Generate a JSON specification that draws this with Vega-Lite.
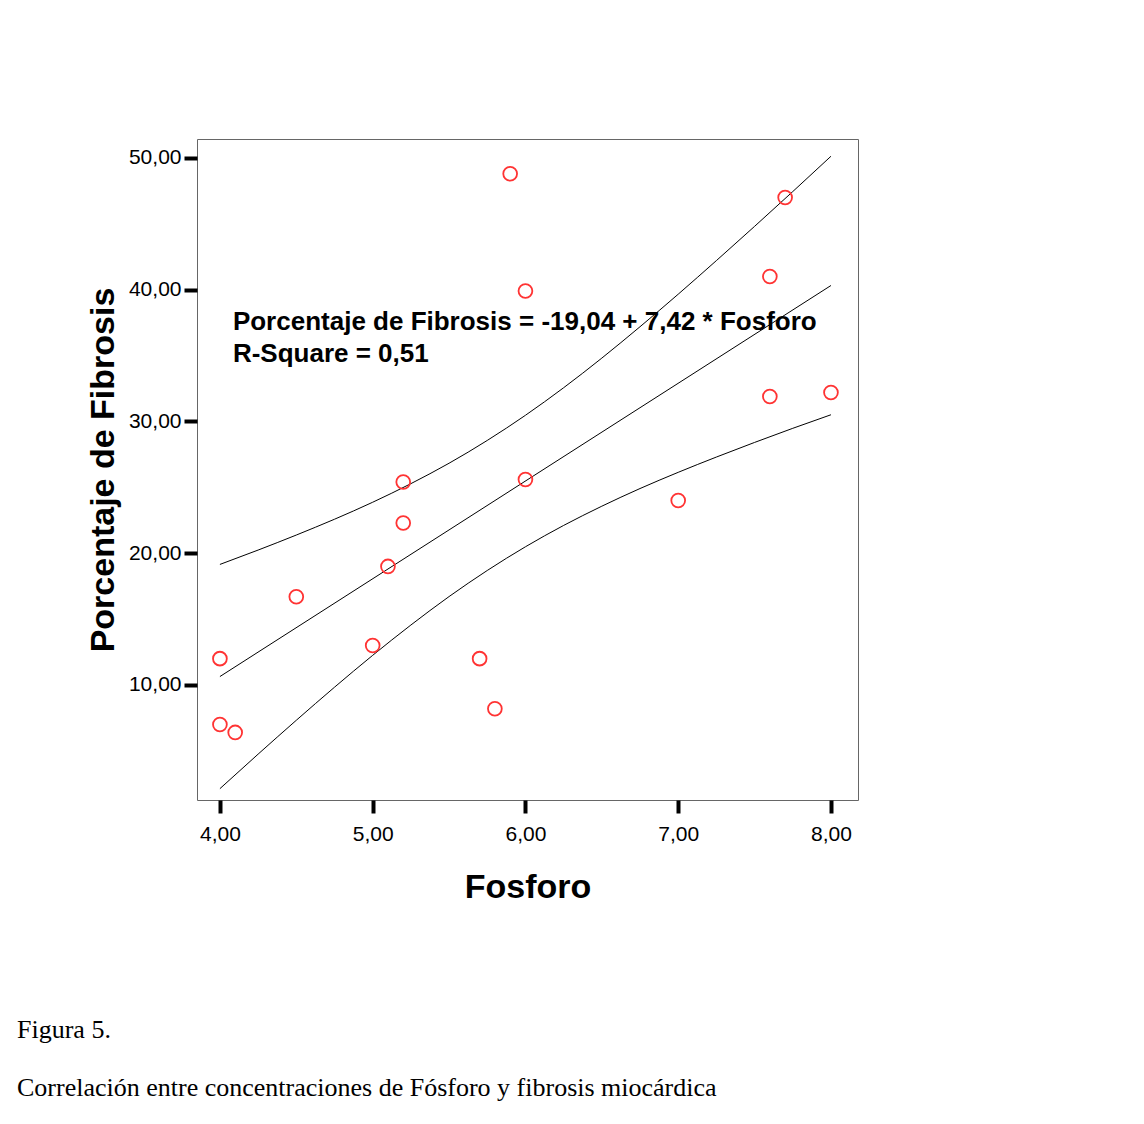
{
  "$schema": "https://vega.github.io/schema/vega-lite/v6.json",
  "autosize": {"type": "none"},
  "padding": {"left": 197, "top": 139, "right": 286, "bottom": 324},
  "width": 661,
  "height": 661,
  "background": "white",
  "config": {
    "locale": {"number": {"decimal": ",", "thousands": ".", "grouping": [3], "currency": ["", ""]}},
    "view": {"stroke": "#666666", "strokeWidth": 1}
  },
  "title": {
    "text": "Figura 5.",
    "subtitle": "Correlación entre concentraciones de Fósforo y fibrosis miocárdica",
    "orient": "bottom",
    "anchor": "start",
    "frame": "group",
    "dx": -180,
    "offset": 113,
    "font": "Liberation Serif",
    "fontSize": 26,
    "fontWeight": "normal",
    "color": "black",
    "subtitleFont": "Liberation Serif",
    "subtitleFontSize": 26,
    "subtitleColor": "black",
    "subtitlePadding": 32
  },
  "datasets": {
    "points": [
      {"fosforo": 5.9, "fibrosis": 48.8},
      {"fosforo": 7.7, "fibrosis": 47.0},
      {"fosforo": 7.6, "fibrosis": 41.0},
      {"fosforo": 6.0, "fibrosis": 39.9},
      {"fosforo": 8.0, "fibrosis": 32.2},
      {"fosforo": 7.6, "fibrosis": 31.9},
      {"fosforo": 5.2, "fibrosis": 25.4},
      {"fosforo": 6.0, "fibrosis": 25.6},
      {"fosforo": 7.0, "fibrosis": 24.0},
      {"fosforo": 5.2, "fibrosis": 22.3},
      {"fosforo": 5.1, "fibrosis": 19.0},
      {"fosforo": 4.5, "fibrosis": 16.7},
      {"fosforo": 4.0, "fibrosis": 12.0},
      {"fosforo": 5.0, "fibrosis": 13.0},
      {"fosforo": 5.7, "fibrosis": 12.0},
      {"fosforo": 4.0, "fibrosis": 7.0},
      {"fosforo": 4.1, "fibrosis": 6.4},
      {"fosforo": 5.8, "fibrosis": 8.2}
    ],
    "lines": [
      {"serie": "fit", "fosforo": 4.0, "fibrosis": 10.64},
      {"serie": "fit", "fosforo": 8.0, "fibrosis": 40.32},
      {"serie": "upper", "fosforo": 4.0, "fibrosis": 19.15},
      {"serie": "upper", "fosforo": 4.25, "fibrosis": 20.24},
      {"serie": "upper", "fosforo": 4.5, "fibrosis": 21.38},
      {"serie": "upper", "fosforo": 4.75, "fibrosis": 22.58},
      {"serie": "upper", "fosforo": 5.0, "fibrosis": 23.87},
      {"serie": "upper", "fosforo": 5.25, "fibrosis": 25.28},
      {"serie": "upper", "fosforo": 5.5, "fibrosis": 26.83},
      {"serie": "upper", "fosforo": 5.75, "fibrosis": 28.56},
      {"serie": "upper", "fosforo": 6.0, "fibrosis": 30.47},
      {"serie": "upper", "fosforo": 6.25, "fibrosis": 32.56},
      {"serie": "upper", "fosforo": 6.5, "fibrosis": 34.81},
      {"serie": "upper", "fosforo": 6.75, "fibrosis": 37.19},
      {"serie": "upper", "fosforo": 7.0, "fibrosis": 39.66},
      {"serie": "upper", "fosforo": 7.25, "fibrosis": 42.21},
      {"serie": "upper", "fosforo": 7.5, "fibrosis": 44.81},
      {"serie": "upper", "fosforo": 7.75, "fibrosis": 47.45},
      {"serie": "upper", "fosforo": 8.0, "fibrosis": 50.13},
      {"serie": "lower", "fosforo": 4.0, "fibrosis": 2.13},
      {"serie": "lower", "fosforo": 4.25, "fibrosis": 4.75},
      {"serie": "lower", "fosforo": 4.5, "fibrosis": 7.32},
      {"serie": "lower", "fosforo": 4.75, "fibrosis": 9.83},
      {"serie": "lower", "fosforo": 5.0, "fibrosis": 12.25},
      {"serie": "lower", "fosforo": 5.25, "fibrosis": 14.55},
      {"serie": "lower", "fosforo": 5.5, "fibrosis": 16.71},
      {"serie": "lower", "fosforo": 5.75, "fibrosis": 18.69},
      {"serie": "lower", "fosforo": 6.0, "fibrosis": 20.49},
      {"serie": "lower", "fosforo": 6.25, "fibrosis": 22.11},
      {"serie": "lower", "fosforo": 6.5, "fibrosis": 23.57},
      {"serie": "lower", "fosforo": 6.75, "fibrosis": 24.91},
      {"serie": "lower", "fosforo": 7.0, "fibrosis": 26.14},
      {"serie": "lower", "fosforo": 7.25, "fibrosis": 27.30},
      {"serie": "lower", "fosforo": 7.5, "fibrosis": 28.41},
      {"serie": "lower", "fosforo": 7.75, "fibrosis": 29.48},
      {"serie": "lower", "fosforo": 8.0, "fibrosis": 30.51}
    ],
    "labels": [
      {"fosforo": 4.085, "fibrosis": 37.55, "texto": "Porcentaje de Fibrosis = -19,04 + 7,42 * Fosforo"},
      {"fosforo": 4.085, "fibrosis": 35.12, "texto": "R-Square = 0,51"}
    ]
  },
  "encoding": {
    "x": {
      "field": "fosforo", "type": "quantitative",
      "scale": {"domain": [3.85, 8.177], "nice": false, "zero": false},
      "axis": {
        "title": "Fosforo", "values": [4, 5, 6, 7, 8], "format": ".2f",
        "domain": false, "grid": false,
        "tickSize": 13, "tickWidth": 4, "tickColor": "black",
        "labelFont": "Liberation Sans", "labelFontSize": 21, "labelColor": "black", "labelPadding": 10,
        "titleFont": "Liberation Sans", "titleFontSize": 34, "titleFontWeight": "bold", "titleColor": "black", "titlePadding": 26
      }
    },
    "y": {
      "field": "fibrosis", "type": "quantitative",
      "scale": {"domain": [1.27, 51.44], "nice": false, "zero": false},
      "axis": {
        "title": "Porcentaje de Fibrosis", "values": [10, 20, 30, 40, 50], "format": ".2f",
        "domain": false, "grid": false,
        "tickSize": 13, "tickWidth": 4, "tickColor": "black",
        "labelFont": "Liberation Sans", "labelFontSize": 21, "labelColor": "black", "labelPadding": 3,
        "titleFont": "Liberation Sans", "titleFontSize": 34, "titleFontWeight": "bold", "titleColor": "black", "titlePadding": 8
      }
    }
  },
  "layer": [
    {
      "data": {"name": "lines"},
      "mark": {"type": "line", "color": "black", "strokeWidth": 1, "interpolate": "monotone"},
      "encoding": {"detail": {"field": "serie"}, "order": {"field": "fosforo"}}
    },
    {
      "data": {"name": "points"},
      "mark": {"type": "point", "shape": "circle", "filled": false, "size": 190, "color": "#ff3333", "strokeWidth": 1.8, "opacity": 1}
    },
    {
      "data": {"name": "labels"},
      "mark": {"type": "text", "align": "left", "baseline": "middle", "font": "Liberation Sans", "fontSize": 26, "fontWeight": "bold", "color": "black"},
      "encoding": {"text": {"field": "texto"}}
    }
  ]
}
